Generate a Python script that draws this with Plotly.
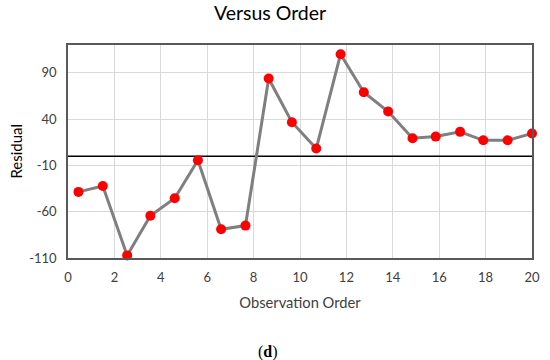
import plotly.graph_objects as go

observation = [0.45, 1.5, 2.55, 3.55, 4.6, 5.6, 6.6, 7.65, 8.65, 9.65,
               10.7, 11.75, 12.75, 13.8, 14.85, 15.85, 16.9, 17.9, 18.95, 20.0]
residual = [-38.6, -32.2, -107.2, -64.3, -45.5, -4.5, -79, -75, 83.8, 36.6,
            8.2, 110.1, 69, 48.2, 19.3, 21.1, 26.2, 17.1, 17.1, 24.4]
zero_x = [0, 20]
zero_y = [0, 0]
x_ticks = [0, 2, 4, 6, 8, 10, 12, 14, 16, 18, 20]
y_ticks = [-110, -60, -10, 40, 90]
y_tick_labels = ["-110", "-60", "-10", "40", "90"]

font = "Lato, 'Open Sans', sans-serif"

fig = go.Figure()
fig.add_trace(go.Scatter(x=zero_x, y=zero_y, mode="lines",
                         line=dict(color="black", width=1.5),
                         hoverinfo="skip", showlegend=False))
fig.add_trace(go.Scatter(x=observation, y=residual, mode="lines+markers",
                         line=dict(color="#7f7f7f", width=3),
                         marker=dict(color="#ff0000", size=10),
                         cliponaxis=False, showlegend=False))

fig.update_layout(
    width=550, height=360,
    margin=dict(l=68, r=18, t=45, b=102, autoexpand=False),
    paper_bgcolor="white", plot_bgcolor="white",
    font=dict(family=font, color="#404040", size=13),
    title=dict(text="Versus Order", x=0.491, xanchor="center", y=0.9625,
               yanchor="middle", font=dict(size=19.5, color="#000000", family=font)),
    showlegend=False,
)
fig.update_xaxes(range=[0, 20], tickvals=x_ticks, showgrid=True, automargin=False,
                 gridcolor="#d9d9d9", gridwidth=1, zeroline=False,
                 showline=True, linecolor="#595959", linewidth=1.5, mirror=True,
                 ticks="", ticklabelstandoff=7, tickfont=dict(size=13, color="#404040"),
                 title=dict(text="Observation Order", standoff=13,
                            font=dict(size=14.7, color="#404040")))
fig.update_yaxes(range=[-110, 120], tickvals=y_ticks, ticktext=y_tick_labels,
                 showgrid=True, automargin=False,
                 gridcolor="#d9d9d9", gridwidth=1, zeroline=False,
                 showline=True, linecolor="#595959", linewidth=1.5, mirror=True,
                 ticks="", ticklabelstandoff=7, tickfont=dict(size=13, color="#404040"))
fig.add_annotation(text="Residual", xref="paper", yref="paper",
                   x=-0.114, y=0.5, xanchor="center", yanchor="middle",
                   textangle=-90, showarrow=False,
                   font=dict(family=font, size=15, color="#000000"))
fig.add_annotation(text="(<b>d</b>)", xref="paper", yref="paper",
                   x=0.431, y=-0.441, yanchor="middle", showarrow=False,
                   font=dict(family="'Liberation Serif', 'DejaVu Serif', serif",
                             size=16, color="#000000"))

# remove the default 8px page margin so the 550x360 figure fills the window
fig.write_html("out.html",
               config={"displayModeBar": False},
               post_script="document.body.style.margin='0';document.body.style.overflow='hidden';")
